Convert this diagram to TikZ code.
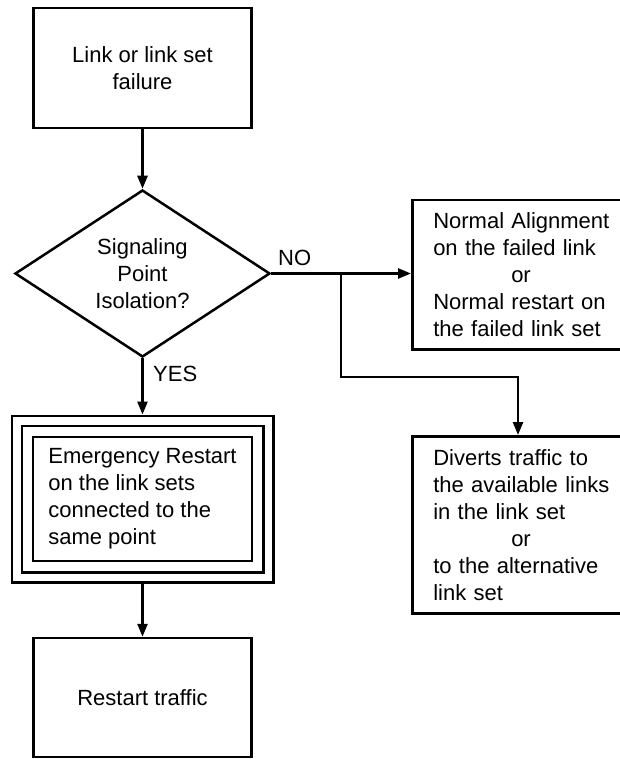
\documentclass[tikz,border=0pt]{standalone}
\usepackage{fontspec}
\setmainfont{Liberation Sans}
\usetikzlibrary{arrows.meta,shapes.geometric,calc,fit}
\begin{document}
\begin{tikzpicture}[x=1pt,y=-1pt,
  box/.style={draw, line width=2.5pt, font=\fontsize{22}{27}\selectfont, inner sep=0pt},
  conn/.style={line width=2.5pt, -{Triangle[length=13pt,width=10pt]}},
  frame/.style={draw, line width=2.5pt},
  lbl/.style={font=\fontsize{22}{27}\selectfont, inner sep=0pt}]
\useasboundingbox (0,0) rectangle (620,759);
% left column
\node[box, minimum width=218pt, minimum height=120pt, align=center] (top) at (142.5,68) {Link or link set\\failure};
\node[box, diamond, aspect=1.53, minimum width=255pt, minimum height=167pt, align=center] (dec) at (142.5,273.5) {Signaling\\Point\\Isolation?};
\node[box, minimum width=219pt, minimum height=124pt, align=left] (em) at (142.5,499) {Emergency Restart\\on the link sets\\connected to the\\same point};
\node[frame, inner sep=10pt, fit=(em)] (emm) {};
\node[frame, inner sep=20pt, fit=(em)] (emo) {};
\node[box, minimum width=218pt, minimum height=119pt, align=center] (rs) at (142.5,697.5) {Restart traffic};
% right column
\node[box, anchor=north west, minimum height=149pt, text width=200pt, inner xsep=21pt, align=left] (nb) at (411,199) {Normal Alignment\\on the failed link\\\hspace*{78pt}or\\Normal restart on\\the failed link set};
\node[box, anchor=north west, minimum height=177pt, text width=200pt, inner xsep=21pt, align=left] (dv) at (411,435) {Diverts traffic to\\the available links\\in the link set\\\hspace*{78pt}or\\to the alternative\\link set};
% connectors
\draw[conn] (top.south) -- (dec.north);
\draw[conn] (dec.east) -- (dec.east -| nb.west);
\coordinate (j) at (341,273.5);
\coordinate (k) at (518,377);
\draw[conn] (j) |- (k) -- (k |- dv.north);
\draw[conn] (dec.south) -- (emo.north);
\draw[conn] (emo.south) -- (rs.north);
% labels
\node[lbl, anchor=base west] (no) at (278,265) {NO};
\node[lbl, anchor=base west] (yes) at (153,381) {YES};
\end{tikzpicture}
\end{document}
